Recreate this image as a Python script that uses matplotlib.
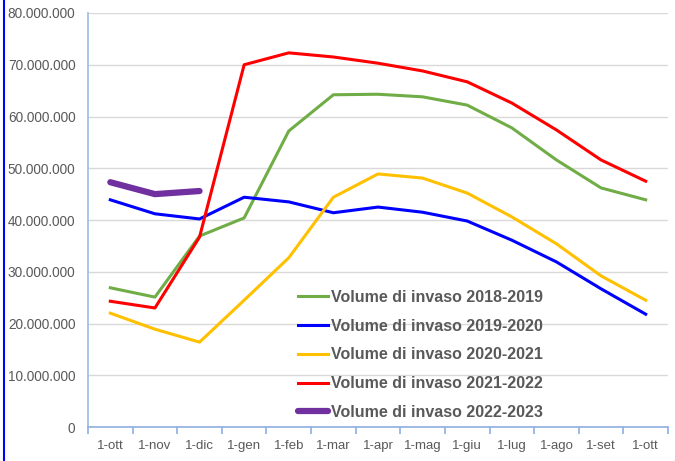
import matplotlib
matplotlib.use("Agg")
import matplotlib.pyplot as plt
from matplotlib.lines import Line2D
from matplotlib.ticker import FuncFormatter

categories = ["1-ott", "1-nov", "1-dic", "1-gen", "1-feb", "1-mar", "1-apr",
              "1-mag", "1-giu", "1-lug", "1-ago", "1-set", "1-ott"]

s2018 = [26.9, 25.1, 36.9, 40.4, 57.2, 64.2, 64.3, 63.8, 62.2, 57.8, 51.6, 46.2, 43.9]
s2019 = [43.9, 41.2, 40.2, 44.4, 43.5, 41.4, 42.5, 41.5, 39.8, 36.1, 31.9, 26.7, 21.8]
s2020 = [22.0, 18.9, 16.4, 24.5, 32.7, 44.4, 48.9, 48.1, 45.2, 40.6, 35.4, 29.2, 24.5]
s2021 = [24.3, 23.0, 36.7, 70.0, 72.3, 71.5, 70.3, 68.8, 66.7, 62.6, 57.4, 51.6, 47.5]
s2022 = [47.3, 45.0, 45.6]

labels = ["Volume di invaso 2018-2019", "Volume di invaso 2019-2020",
          "Volume di invaso 2020-2021", "Volume di invaso 2021-2022",
          "Volume di invaso 2022-2023"]

plt.rcParams['font.family'] = ['Liberation Sans', 'DejaVu Sans']
fig = plt.figure(figsize=(6.75, 4.61), dpi=100)
ax = fig.add_axes([88/675, 34/461, 580/675, 414/461])

x = list(range(len(categories)))
scale = 1e6
ax.plot(x, [v*scale for v in s2018], color="#70ad47", lw=2.2, label=labels[0], zorder=3)
ax.plot(x, [v*scale for v in s2019], color="#0000ff", lw=2.2, label=labels[1], zorder=3)
ax.plot(x, [v*scale for v in s2020], color="#ffc000", lw=2.2, label=labels[2], zorder=3)
ax.plot(x, [v*scale for v in s2021], color="#ff0000", lw=2.2, label=labels[3], zorder=3)
ax.plot(x[:len(s2022)], [v*scale for v in s2022], color="#7030a0", lw=4.5,
        solid_capstyle="round", label=labels[4], zorder=4)

ax.set_xlim(-0.5, len(categories) - 0.5)
ax.set_ylim(0, 80e6)
ax.set_yticks([i*10e6 for i in range(9)])
ax.yaxis.set_major_formatter(FuncFormatter(lambda v, p: "0" if v == 0 else f"{int(v):,}".replace(",", ".")))
ax.set_xticks(x)
ax.set_xticklabels(categories)
ax.set_xticks([i - 0.5 for i in range(len(categories) + 1)], minor=True)

ax.grid(axis="y", color="#d9d9d9", lw=1)
ax.set_axisbelow(True)
for s in ["top", "right"]:
    ax.spines[s].set_visible(False)
ax.spines["left"].set_color("#9dbbe3")
ax.spines["bottom"].set_color("#8eaee0")
ax.spines["left"].set_linewidth(1.2)
ax.spines["bottom"].set_linewidth(1.2)

ax.tick_params(axis="y", length=0, pad=9, labelsize=9.8, labelcolor="#595959")
ax.tick_params(axis="x", which="major", length=0, pad=9, labelsize=9.5, labelcolor="#595959")
ax.tick_params(axis="x", which="minor", length=5, color="#8eaee0", width=1.2)

leg = ax.legend(loc="upper left", bbox_to_anchor=(210/580, 137/414), frameon=False,
                handlelength=1.9, handletextpad=0.15, labelspacing=0.86,
                prop={"weight": "bold", "size": 11.5, "family": "Liberation Sans"},
                borderaxespad=0, borderpad=0)
for t in leg.get_texts():
    t.set_color("#595959")

fig.add_artist(Line2D([4/675, 4/675], [0, 1], color="#0000ff", lw=1.5, transform=fig.transFigure))

fig.savefig("out.png", dpi=100)
